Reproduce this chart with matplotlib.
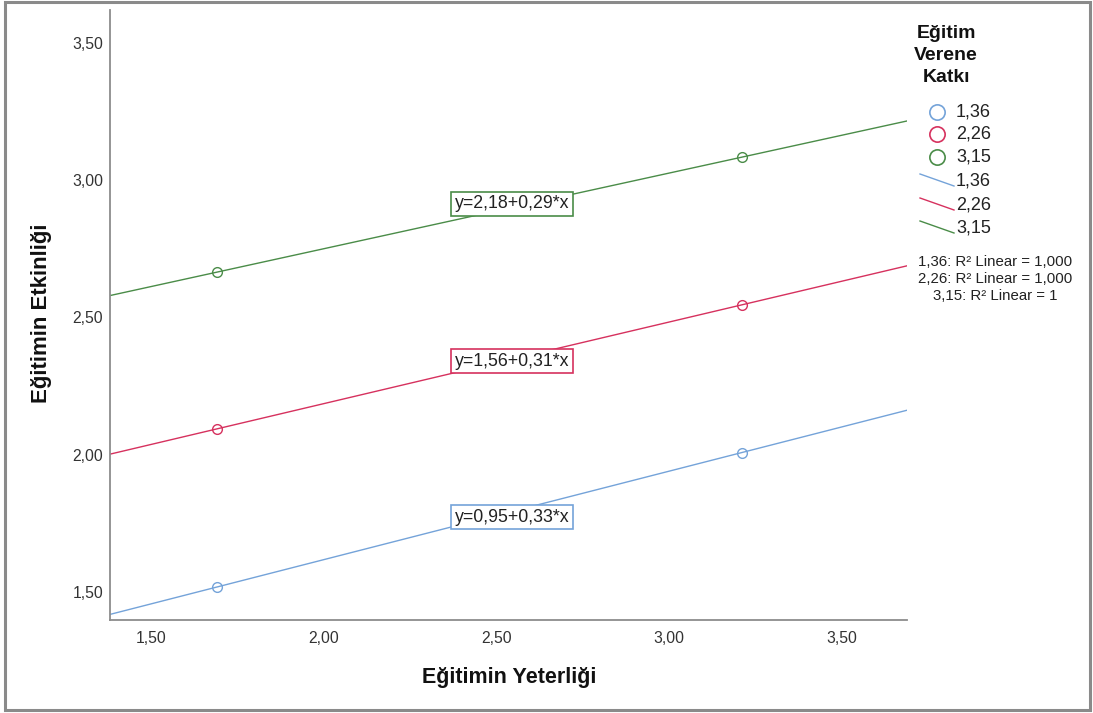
import matplotlib
matplotlib.use("Agg")
import matplotlib.pyplot as plt
from matplotlib.lines import Line2D
from matplotlib.patches import Rectangle
import numpy as np

# ---- data ----
x_points = [1.69, 3.21]
levels = ["1,36", "2,26", "3,15"]
y_blue = [1.518, 2.008]
y_red = [2.094, 2.546]
y_green = [2.665, 3.084]
equations = ["y=0,95+0,33*x", "y=1,56+0,31*x", "y=2,18+0,29*x"]
r2_texts = ["1,36: R² Linear = 1,000", "2,26: R² Linear = 1,000", "3,15: R² Linear = 1"]
x_ticks = [1.5, 2.0, 2.5, 3.0, 3.5]
y_ticks = [1.5, 2.0, 2.5, 3.0, 3.5]
x_label = "Eğitimin Yeterliği"
y_label = "Eğitimin Etkinliği"
legend_title = ["Eğitim", "Verene", "Katkı"]

colors = ["#74a3d9", "#d6315e", "#4a8c48"]
series = [y_blue, y_red, y_green]

plt.rcParams['font.family'] = ['Liberation Sans', 'DejaVu Sans']

W, H = 1093, 713
fig = plt.figure(figsize=(W / 100, H / 100), dpi=100)

def fx(px):
    return px / W

def fy(py):
    return 1 - py / H

ax = fig.add_axes([fx(110), fy(620), fx(907) - fx(110), fy(10) - fy(620)])
xlim = (1.381, 3.688)
ylim = (1.398, 3.62)
ax.set_xlim(*xlim)
ax.set_ylim(*ylim)

for ys, c in zip(series, colors):
    coef = np.polyfit(x_points, ys, 1)
    xs = np.array(xlim)
    ax.plot(xs, np.polyval(coef, xs), color=c, lw=1.0, zorder=2)
    ax.plot(x_points, ys, 'o', mfc='none', mec=c, ms=7, mew=1.0, zorder=3)

for sp in ['top', 'right']:
    ax.spines[sp].set_visible(False)
for sp in ['left', 'bottom']:
    ax.spines[sp].set_color('#8c8c8c')
    ax.spines[sp].set_linewidth(1.3)

ax.set_xticks(x_ticks)
ax.set_yticks(y_ticks)
ax.set_xticklabels([f"{v:.2f}".replace('.', ',') for v in x_ticks])
ax.set_yticklabels([f"{v:.2f}".replace('.', ',') for v in y_ticks])
ax.tick_params(axis='both', length=0, labelsize=11.3, labelcolor='#333333')
ax.tick_params(axis='y', pad=5)
ax.tick_params(axis='x', pad=8)

fig.text(fx(509), fy(678), x_label, ha='center', va='center', fontsize=15.5, fontweight='bold', color='#111111')
fig.text(fx(42), fy(313), y_label, ha='center', va='center', rotation=90, fontsize=16, fontweight='bold', color='#111111')

# equation boxes
eq_pos = [(455, 517), (455, 361), (455, 204)]
for (px, py), txt, c in zip(eq_pos, equations, colors):
    fig.text(fx(px), fy(py), txt, ha='left', va='center', fontsize=12.8, color='#222222',
             bbox=dict(boxstyle='square,pad=0.2', fc='white', ec=c, lw=1.2))

# legend
for yy, t in zip([33, 56, 78], legend_title):
    fig.text(fx(946), fy(yy), t, ha='center', va='center', fontsize=14, fontweight='bold', color='#111111')
circle_y = [112, 134, 157]
for yy, lab, c in zip(circle_y, levels, colors):
    fig.add_artist(Line2D([fx(937)], [fy(yy)], marker='o', mfc='none', mec=c, ms=11, mew=1.2,
                          transform=fig.transFigure))
    fig.text(fx(956), fy(yy), lab, ha='left', va='center', fontsize=13, color='#222222')
line_y = [181, 205, 228]
for yy, lab, c in zip(line_y, levels, colors):
    fig.add_artist(Line2D([fx(920), fx(954)], [fy(yy - 7), fy(yy + 5)], color=c, lw=1.0,
                          transform=fig.transFigure))
    fig.text(fx(956), fy(yy), lab, ha='left', va='center', fontsize=13, color='#222222')
r2_y = [262, 279, 296]
for yy, txt in zip(r2_y, r2_texts):
    fig.text(fx(995), fy(yy), txt, ha='center', va='center', fontsize=10.8, color='#222222')

# outer border
fig.add_artist(Rectangle((fx(5), fy(710)), fx(1090) - fx(5), fy(2) - fy(710), fill=False,
                         ec='#8a8a8a', lw=2.2, transform=fig.transFigure))

fig.savefig("out.png", dpi=100)
